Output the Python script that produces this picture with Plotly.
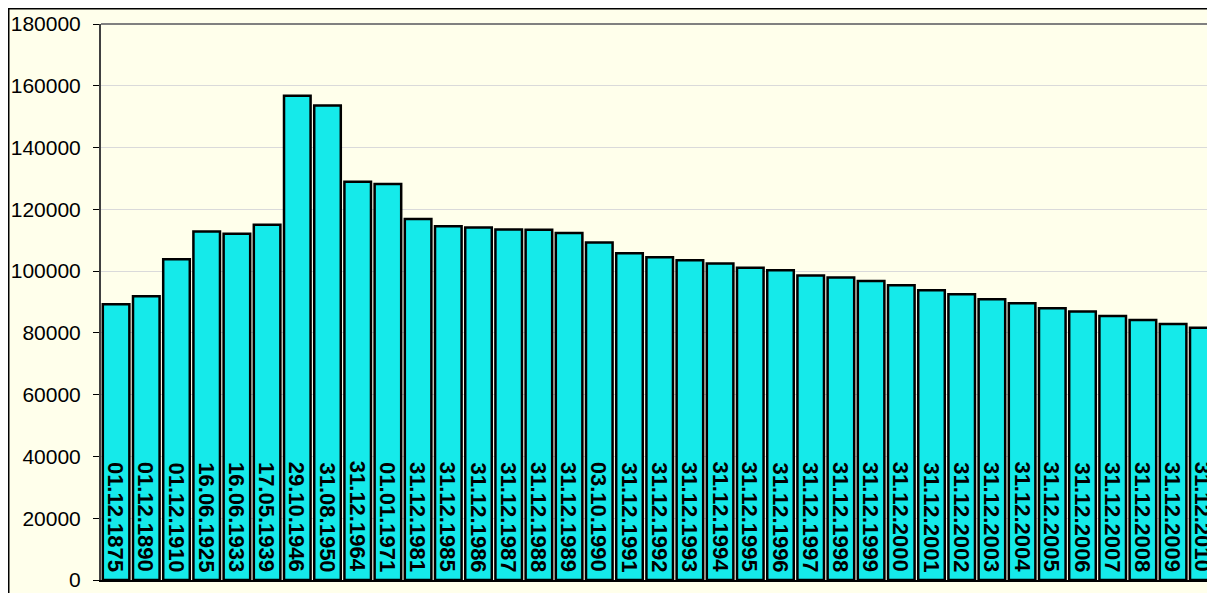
import plotly.graph_objects as go

dates = ["01.12.1875", "01.12.1890", "01.12.1910", "16.06.1925", "16.06.1933",
         "17.05.1939", "29.10.1946", "31.08.1950", "31.12.1964", "01.01.1971",
         "31.12.1981", "31.12.1985", "31.12.1986", "31.12.1987", "31.12.1988",
         "31.12.1989", "03.10.1990", "31.12.1991", "31.12.1992", "31.12.1993",
         "31.12.1994", "31.12.1995", "31.12.1996", "31.12.1997", "31.12.1998",
         "31.12.1999", "31.12.2000", "31.12.2001", "31.12.2002", "31.12.2003",
         "31.12.2004", "31.12.2005", "31.12.2006", "31.12.2007", "31.12.2008",
         "31.12.2009", "31.12.2010"]

population = [89300, 91900, 103800, 112800, 112100,
              115000, 156800, 153600, 128900, 128200,
              116900, 114500, 114100, 113500, 113400,
              112300, 109300, 105800, 104500, 103500,
              102500, 101100, 100300, 98600, 97900,
              96800, 95400, 93800, 92500, 90900,
              89600, 88000, 86900, 85500, 84200,
              82900, 81700]

y_ticks = [0, 20000, 40000, 60000, 80000, 100000, 120000, 140000, 160000, 180000]

IVORY = "#FFFFEB"
CYAN = "#15EAEA"
FONT = "Liberation Sans, Arial, sans-serif"

# the page places the figure 8px from the top-left corner of the window
OFF = 8
W, H = 1215 - OFF, 593 - OFF
ML, MR, MT, MB = 101 - OFF, 0, 24 - OFF, 13
PW, PH = W - ML - MR, H - MT - MB

fig = go.Figure()
fig.add_trace(go.Bar(
    x=dates,
    y=population,
    marker=dict(color=CYAN, line=dict(color="black", width=2.5)),
    hoverinfo="x+y",
))

annotations = [
    dict(x=d, y=0, xref="x", yref="y", text=d, showarrow=False,
         textangle=90, xanchor="center", yanchor="bottom", yshift=6,
         font=dict(family=FONT, size=22, color="black", weight="bold"))
    for d in dates
]

fig.update_layout(
    width=W, height=H, autosize=False,
    margin=dict(l=ML, r=MR, t=MT, b=MB, pad=0),
    paper_bgcolor="white",
    plot_bgcolor="rgba(0,0,0,0)",
    bargap=0.12,
    showlegend=False,
    font=dict(family=FONT, color="black"),
    annotations=annotations,
    shapes=[
        dict(type="rect", xref="paper", yref="paper",
             x0=(0.75 - ML) / PW, x1=1.05,
             y0=-0.1, y1=(H - MB - 0.75) / PH,
             fillcolor=IVORY, line=dict(color="black", width=1.5),
             layer="below"),
        dict(type="line", xref="paper", yref="paper",
             x0=0, x1=1, y0=1, y1=1,
             line=dict(color="#808080", width=2), layer="above"),
    ],
)

fig.update_xaxes(
    type="category",
    range=[-0.5, -0.5 + PW / 30.2],
    showticklabels=False,
    ticks="",
    showgrid=False,
    showline=True, linecolor="black", linewidth=2,
    zeroline=False,
)

fig.update_yaxes(
    range=[0, 180000],
    tickmode="array", tickvals=y_ticks, ticktext=[str(v) for v in y_ticks],
    ticks="outside", ticklen=6, tickcolor="black", tickwidth=1,
    ticklabelstandoff=8,
    tickfont=dict(size=21, color="black"),
    showgrid=True, gridcolor="#DADADA", gridwidth=1,
    showline=True, linecolor="#404040", linewidth=2,
    zeroline=False,
)

fig.write_html("out.html")
